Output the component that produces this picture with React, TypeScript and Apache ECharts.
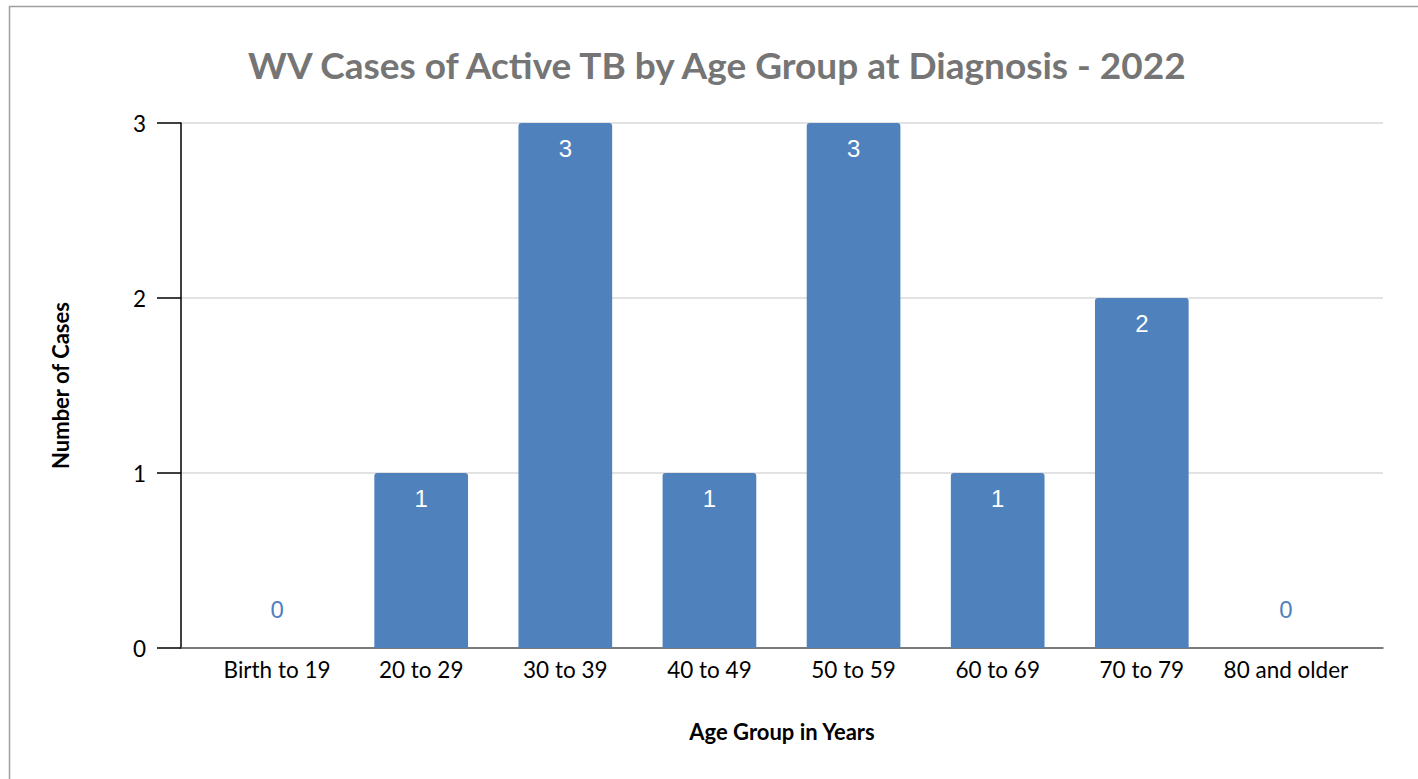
import React, { useEffect, useRef } from "react";
import * as echarts from "echarts";

const categories = ["Birth to 19", "20 to 29", "30 to 39", "40 to 49", "50 to 59", "60 to 69", "70 to 79", "80 and older"];
const cases = [0, 1, 3, 1, 3, 1, 2, 0];
const yTicks = { min: 0, max: 3, interval: 1 };

export default function App() {
  const ref = useRef<HTMLDivElement>(null);
  useEffect(() => {
    document.body.style.margin = "0";
    const chart = echarts.init(ref.current!, null, { renderer: "svg" });
    const blue = "#4F81BD";
    chart.setOption({
      animation: false,
      backgroundColor: "#ffffff",
      title: {
        text: "WV Cases of Active TB by Age Group at Diagnosis - 2022",
        left: 243,
        top: 41,
        textStyle: { fontFamily: "Lato", fontWeight: "bold", fontSize: 37, color: "#757575" },
      },
      graphic: [
        {
          type: "rect",
          shape: { x: 9.5, y: 6.5, width: 1430, height: 800 },
          style: { fill: "none", stroke: "#a0a0a0", lineWidth: 1.5 },
          silent: true,
        },
      ],
      grid: [
        { left: 205, right: 60, top: 123, bottom: 131 },
        { left: 181, right: 35, top: 123, bottom: 131 },
      ],
      xAxis: [
        {
          type: "category",
          gridIndex: 0,
          data: categories,
          axisLine: { show: false },
          axisTick: { show: false },
          axisLabel: { color: "#000", fontFamily: "Lato", fontSize: 22.5, margin: 10, interval: 0 },
          z: 3,
        },
        {
          type: "value",
          gridIndex: 1,
          min: 0,
          max: 1,
          axisLine: { show: true, lineStyle: { color: "#595959", width: 1.5 } },
          axisTick: { show: false },
          axisLabel: { show: false },
          splitLine: { show: false },
          name: "Age Group in Years",
          nameLocation: "middle",
          nameGap: 72,
          nameTextStyle: { fontFamily: "Lato", fontWeight: "bold", fontSize: 22, color: "#000" },
        },
      ],
      yAxis: [
        {
          type: "value",
          gridIndex: 0,
          min: yTicks.min,
          max: yTicks.max,
          interval: yTicks.interval,
          show: false,
        },
        {
          type: "value",
          gridIndex: 1,
          min: yTicks.min,
          max: yTicks.max,
          interval: yTicks.interval,
          axisLine: { show: true, lineStyle: { color: "#000", width: 1.5 } },
          axisTick: { show: true, length: 24, lineStyle: { color: "#000", width: 1.5 } },
          axisLabel: { color: "#000", fontFamily: "Lato", fontSize: 22.5, margin: 35 },
          splitLine: { show: true, lineStyle: { color: "#d9d9d9", width: 1.5 } },
          name: "Number of Cases",
          nameLocation: "middle",
          nameGap: 110,
          nameRotate: 90,
          nameTextStyle: { fontFamily: "Lato", fontWeight: "bold", fontSize: 22, color: "#000" },
        },
      ],
      series: [
        {
          type: "bar",
          xAxisIndex: 0,
          yAxisIndex: 0,
          barCategoryGap: "35%",
          itemStyle: { color: blue, borderRadius: [3, 3, 0, 0] },
          z: 4,
          data: cases.map((v) => ({
            value: v,
            label:
              v === 0
                ? { show: true, position: "top", distance: 27, color: blue }
                : { show: true, position: "insideTop", distance: 13, color: "#fff" },
          })),
          label: { fontFamily: "Liberation Sans", fontSize: 24 },
        },
      ],
    });
    return () => chart.dispose();
  }, []);
  return <div ref={ref} style={{ width: 1418, height: 779 }} />;
}
